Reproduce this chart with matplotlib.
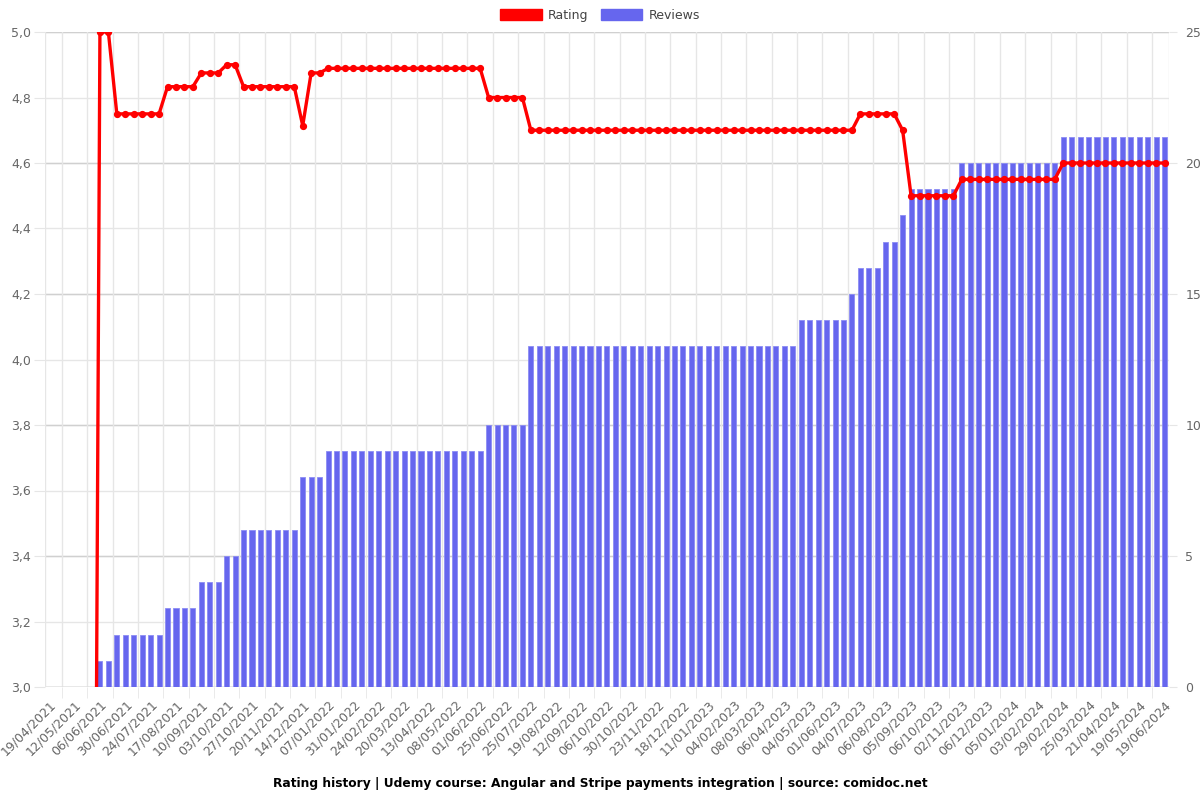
import matplotlib
matplotlib.use("Agg")
import matplotlib.pyplot as plt
import numpy as np
from matplotlib.ticker import FuncFormatter, FixedLocator
from matplotlib.patches import Patch

tick_dates = ["19/04/2021", "12/05/2021", "06/06/2021", "30/06/2021", "24/07/2021", "17/08/2021",
              "10/09/2021", "03/10/2021", "27/10/2021", "20/11/2021", "14/12/2021", "07/01/2022",
              "31/01/2022", "24/02/2022", "20/03/2022", "13/04/2022", "08/05/2022", "01/06/2022",
              "25/06/2022", "25/07/2022", "19/08/2022", "12/09/2022", "06/10/2022", "30/10/2022",
              "23/11/2022", "18/12/2022", "11/01/2023", "04/02/2023", "08/03/2023", "06/04/2023",
              "04/05/2023", "01/06/2023", "04/07/2023", "06/08/2023", "05/09/2023", "06/10/2023",
              "02/11/2023", "06/12/2023", "05/01/2024", "03/02/2024", "29/02/2024", "25/03/2024",
              "21/04/2024", "19/05/2024", "19/06/2024"]

# (value, count) runs
review_runs = [(0, 6), (1, 2), (2, 6), (3, 4), (4, 3), (5, 2), (6, 7), (8, 3), (9, 19),
               (10, 5), (13, 32), (14, 6), (15, 1), (16, 3), (17, 2), (18, 1), (19, 6),
               (20, 12), (21, 13)]
rating_runs = [(0, 6), (5.0, 2), (4.75, 6), (4.833, 4), (4.875, 3), (4.9, 2), (4.833, 7),
               (4.714, 1), (4.875, 2), (4.889, 19), (4.8, 5), (4.7, 39), (4.75, 5), (4.7, 1),
               (4.5, 6), (4.55, 12), (4.6, 13)]

reviews = [v for v, n in review_runs for _ in range(n)]
ratings = [v for v, n in rating_runs for _ in range(n)]
n = len(reviews)
x = np.arange(n)

rating_ticks = [3.0, 3.2, 3.4, 3.6, 3.8, 4.0, 4.2, 4.4, 4.6, 4.8, 5.0]
review_ticks = [0, 5, 10, 15, 20, 25]

fig = plt.figure(figsize=(12, 8), dpi=100)
ax = fig.add_axes([0.0375, 0.14125, 0.9365, 0.81875])
ax2 = ax.twinx()

grid_c = "#e6e6e6"
grid_c2 = "#d0d0d0"
tc = "#666666"

ax.set_xlim(-0.5, n - 0.5)
ax.set_ylim(0, 25)
ax2.set_ylim(3.0, 5.0)

# grid lines (drawn under bars)
for r in rating_ticks:
    ax.axhline((r - 3.0) / 2.0 * 25, color=grid_c, lw=1, zorder=0)
for v in review_ticks:
    ax.axhline(v, color=grid_c2, lw=1, zorder=0)
label_pos = x[::3]
grid_pos = label_pos + 1.5
for g in grid_pos:
    if g < n - 0.5:
        ax.axvline(g, color=grid_c, lw=1, zorder=0)

ax.bar(x, reviews, width=0.6, color="#6666ee", edgecolor="#8c8cf4", linewidth=0.6, zorder=2)
ax2.plot(x, ratings, color="#ff0000", lw=2.4, marker="o", markersize=4.2, zorder=3)

# axes styling
for a in (ax, ax2):
    for s in a.spines.values():
        s.set_visible(False)
ax.axhline(0, color="#c8c8c8", lw=1, zorder=1)
ax.axvline(-0.5, color=grid_c, lw=1, zorder=1)
ax.axvline(n - 0.5, color=grid_c, lw=1, zorder=1)

ax.yaxis.tick_right()
ax.set_yticks(review_ticks)
ax.tick_params(axis="y", length=6, color=grid_c, labelcolor=tc, labelsize=9, pad=6)
ax2.yaxis.tick_left()
ax2.set_yticks(rating_ticks)
ax2.yaxis.set_major_formatter(FuncFormatter(lambda v, p: f"{v:.1f}".replace(".", ",")))
ax2.tick_params(axis="y", length=8, color=grid_c, labelcolor=tc, labelsize=9, pad=2)

ax.set_xticks(label_pos)
ax.set_xticklabels(tick_dates, rotation=45, ha="right", rotation_mode="anchor")
ax.xaxis.set_minor_locator(FixedLocator([g for g in grid_pos if g < n - 0.5]))
ax.tick_params(axis="x", which="major", length=0, labelcolor=tc, labelsize=9, pad=8)
ax.tick_params(axis="x", which="minor", length=8, color=grid_c)

fig.legend(handles=[Patch(facecolor="#ff0000", edgecolor="#ff0000", label="Rating"),
                    Patch(facecolor="#6666ee", edgecolor="#6666ee", label="Reviews")],
           loc="upper center", bbox_to_anchor=(0.5, 1.003), ncol=2, frameon=False,
           fontsize=9, handlelength=3.3, handleheight=1.0, columnspacing=1.0,
           handletextpad=0.5, labelcolor="#444444")

fig.text(0.5, 0.021, "Rating history | Udemy course: Angular and Stripe payments integration | source: comidoc.net",
         ha="center", va="center", fontsize=8.8, fontweight="bold", color="#000000")

fig.savefig("out.png", dpi=100)
